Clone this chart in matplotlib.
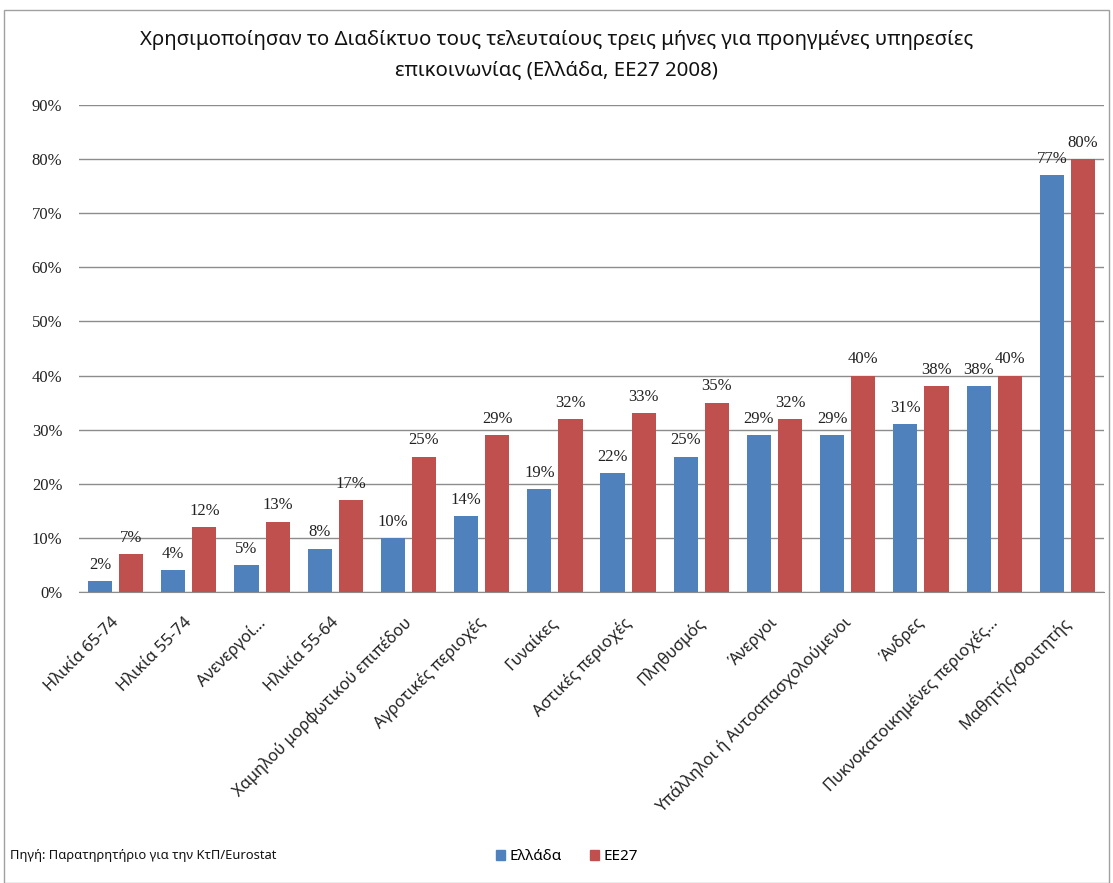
import numpy as np
import matplotlib
matplotlib.use("Agg")
import matplotlib.pyplot as plt
from matplotlib.patches import Rectangle, Patch
from matplotlib.transforms import ScaledTranslation

plt.rcParams['font.family'] = ['Noto Sans', 'DejaVu Sans']

categories = ["Ηλικία 65-74", "Ηλικία 55-74", "Ανενεργοί…", "Ηλικία 55-64",
              "Χαμηλού μορφωτικού επιπέδου", "Αγροτικές περιοχές", "Γυναίκες",
              "Αστικές περιοχές", "Πληθυσμός", "Άνεργοι",
              "Υπάλληλοι ή Αυτοαπασχολούμενοι", "Άνδρες",
              "Πυκνοκατοικημένες περιοχές…", "Μαθητής/Φοιτητής"]
greece = [2, 4, 5, 8, 10, 14, 19, 22, 25, 29, 29, 31, 38, 77]
eu27 = [7, 12, 13, 17, 25, 29, 32, 33, 35, 32, 40, 38, 40, 80]
series_names = ["Ελλάδα", "ΕΕ27"]
colors = ["#4F81BD", "#C0504D"]

fig = plt.figure(figsize=(11.13, 8.83), dpi=100)
ax = fig.add_axes([79 / 1113, 1 - 592 / 883, (1104 - 79) / 1113, (592 - 105) / 883])

x = np.arange(len(categories))
w = 0.33
off = 0.213
for vals, sign, c in [(greece, -1, colors[0]), (eu27, 1, colors[1])]:
    b = ax.bar(x + sign * off, vals, width=w, color=c, zorder=3)
    ax.bar_label(b, labels=[f"{v}%" for v in vals], padding=6,
                 family="Liberation Serif", fontsize=12, color="#222222")

ax.set_xlim(-0.5, len(categories) - 0.5)
ax.set_ylim(0, 90)
ax.set_yticks(range(0, 91, 10))
ax.set_yticklabels([f"{t}%" for t in range(0, 91, 10)], family="Liberation Serif",
                   fontsize=12, color="#222222")
ax.yaxis.grid(True, color="#8c8c8c", linewidth=1, zorder=0)
ax.tick_params(axis="y", length=0, pad=12)
ax.tick_params(axis="x", length=0, pad=14)
ax.set_xticks(x)
ax.set_xticklabels(categories, rotation=45, ha="right", rotation_mode="anchor",
                   fontsize=11.8, color="#222222")
# nudge the slanted labels a little to the left
shift = ScaledTranslation(-5 / 100, -3 / 100, fig.dpi_scale_trans)
for lbl in ax.get_xticklabels():
    lbl.set_transform(lbl.get_transform() + shift)
for s in ["top", "right", "left"]:
    ax.spines[s].set_visible(False)
ax.spines["bottom"].set_color("#8c8c8c")

fig.text(0.5, 1 - 40 / 883, "Χρησιμοποίησαν το Διαδίκτυο τους τελευταίους τρεις μήνες για προηγμένες υπηρεσίες",
         ha="center", va="center", fontsize=14.7, color="#111111")
fig.text(0.5, 1 - 70 / 883, "επικοινωνίας (Ελλάδα, ΕΕ27 2008)",
         ha="center", va="center", fontsize=14.7, color="#111111")

fig.text(10 / 1113, 1 - 855 / 883, "Πηγή: Παρατηρητήριο για την ΚτΠ/Eurostat",
         ha="left", va="center", fontsize=9.3, color="#111111")

handles = [Patch(color=c) for c in colors]
fig.legend(handles, series_names, loc="center", bbox_to_anchor=(567 / 1113, 1 - 857 / 883),
           ncol=2, frameon=False, fontsize=11, handlelength=0.6, handleheight=0.6,
           handletextpad=0.3, columnspacing=1.8)

fig.patches.append(Rectangle((4 / 1113, 0), 1105 / 1113, 1 - 10 / 883, transform=fig.transFigure,
                             fill=False, edgecolor="#a0a0a0", linewidth=1))

fig.savefig("out.png", dpi=100)
